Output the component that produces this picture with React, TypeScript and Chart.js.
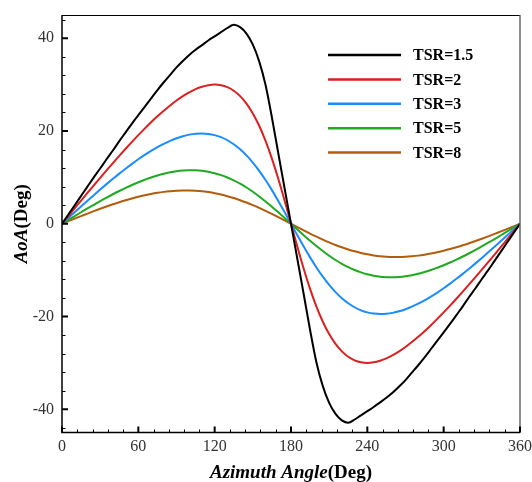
import React, { useEffect, useRef } from "react";
import { Chart, registerables } from "chart.js";

Chart.register(...registerables);

// Azimuth angle (deg)
const angles = [
  0, 5, 10, 15, 20, 25, 30, 35, 40, 45, 50, 55, 60, 65, 70, 75, 80, 85, 90,
  95, 100, 105, 110, 115, 120, 125, 130, 135, 140, 145, 150, 155, 160, 165, 170, 175, 180,
  185, 190, 195, 200, 205, 210, 215, 220, 225, 230, 235, 240, 245, 250, 255, 260, 265, 270,
  275, 280, 285, 290, 295, 300, 305, 310, 315, 320, 325, 330, 335, 340, 345, 350, 355, 360,
];

// AoA (deg) per tip speed ratio
const tsr15 = [
  0, 2.0, 4.0, 6.0, 8.0, 10.0, 11.9, 13.9, 15.8, 17.8, 19.7, 21.6, 23.4, 25.2, 27.0, 28.8, 30.5, 32.1, 33.7,
  35.1, 36.4, 37.5, 38.5, 39.5, 40.4, 41.3, 42.2, 42.9, 42.4, 41.0, 38.6, 35.0, 29.9, 22.9, 15.2, 7.6, 0,
  -7.6, -15.2, -22.9, -29.9, -35.0, -38.6, -41.0, -42.4, -42.9, -42.2, -41.3, -40.4, -39.5, -38.5, -37.5, -36.4, -35.1, -33.7,
  -32.1, -30.5, -28.8, -27.0, -25.2, -23.4, -21.6, -19.7, -17.8, -15.8, -13.9, -11.9, -10.0, -8.0, -6.0, -4.0, -2.0, 0,
];
const tsr2 = [
  0, 1.67, 3.33, 4.99, 6.64, 8.27, 9.90, 11.50, 13.08, 14.64, 16.16, 17.66, 19.11, 20.51, 21.86, 23.15, 24.37, 25.51, 26.57,
  27.51, 28.33, 29.02, 29.54, 29.88, 30.00, 29.87, 29.44, 28.68, 27.51, 25.91, 23.79, 21.13, 17.88, 14.05, 9.70, 4.96, 0,
  -4.96, -9.70, -14.05, -17.88, -21.13, -23.79, -25.91, -27.51, -28.68, -29.44, -29.87, -30.00, -29.88, -29.54, -29.02, -28.33, -27.51, -26.57,
  -25.51, -24.37, -23.15, -21.86, -20.51, -19.11, -17.66, -16.16, -14.64, -13.08, -11.50, -9.90, -8.27, -6.64, -4.99, -3.33, -1.67, 0,
];
const tsr3 = [
  0, 1.25, 2.49, 3.73, 4.96, 6.17, 7.37, 8.54, 9.68, 10.80, 11.87, 12.91, 13.90, 14.83, 15.70, 16.51, 17.24, 17.88, 18.43,
  18.88, 19.21, 19.41, 19.47, 19.37, 19.11, 18.66, 18.00, 17.14, 16.05, 14.73, 13.19, 11.41, 9.42, 7.25, 4.92, 2.49, 0,
  -2.49, -4.92, -7.25, -9.42, -11.41, -13.19, -14.73, -16.05, -17.14, -18.00, -18.66, -19.11, -19.37, -19.47, -19.41, -19.21, -18.88, -18.43,
  -17.88, -17.24, -16.51, -15.70, -14.83, -13.90, -12.91, -11.87, -10.80, -9.68, -8.54, -7.37, -6.17, -4.96, -3.73, -2.49, -1.25, 0,
];
const tsr5 = [
  0, 0.83, 1.66, 2.48, 3.30, 4.09, 4.87, 5.63, 6.36, 7.06, 7.73, 8.36, 8.95, 9.48, 9.98, 10.41, 10.78, 11.08, 11.31,
  11.46, 11.53, 11.51, 11.41, 11.20, 10.89, 10.49, 9.97, 9.35, 8.63, 7.81, 6.90, 5.89, 4.81, 3.67, 2.47, 1.25, 0,
  -1.25, -2.47, -3.67, -4.81, -5.89, -6.90, -7.81, -8.63, -9.35, -9.97, -10.49, -10.89, -11.20, -11.41, -11.51, -11.53, -11.46, -11.31,
  -11.08, -10.78, -10.41, -9.98, -9.48, -8.95, -8.36, -7.73, -7.06, -6.36, -5.63, -4.87, -4.09, -3.30, -2.48, -1.66, -0.83, 0,
];
const tsr8 = [
  0, 0.56, 1.11, 1.65, 2.19, 2.72, 3.23, 3.72, 4.19, 4.64, 5.06, 5.46, 5.82, 6.14, 6.43, 6.67, 6.87, 7.02, 7.13,
  7.18, 7.17, 7.11, 7.00, 6.82, 6.59, 6.29, 5.94, 5.54, 5.08, 4.57, 4.01, 3.41, 2.77, 2.11, 1.42, 0.71, 0,
  -0.71, -1.42, -2.11, -2.77, -3.41, -4.01, -4.57, -5.08, -5.54, -5.94, -6.29, -6.59, -6.82, -7.00, -7.11, -7.17, -7.18, -7.13,
  -7.02, -6.87, -6.67, -6.43, -6.14, -5.82, -5.46, -5.06, -4.64, -4.19, -3.72, -3.23, -2.72, -2.19, -1.65, -1.11, -0.56, 0,
];

const seriesLabels = ["TSR=1.5", "TSR=2", "TSR=3", "TSR=5", "TSR=8"];
const seriesValues = [tsr15, tsr2, tsr3, tsr5, tsr8];
const seriesColors = ["#000000", "#dc1f1f", "#1a8cff", "#1faa1f", "#b35c0c"];

const xTicks = [0, 60, 120, 180, 240, 300, 360];
const yTicks = [-40, -20, 0, 20, 40];
const xMinorStep = 12;
const yMinorStep = 4;

const SERIF = '"Liberation Serif", "Times New Roman", serif';

const decorPlugin = {
  id: "decor",
  afterDatasetsDraw(chart: any) {
    const { ctx, chartArea: ca, scales } = chart;
    const xs = scales.x;
    const ys = scales.y;
    ctx.save();
    ctx.lineCap = "butt";
    // top border
    ctx.strokeStyle = "#000";
    ctx.lineWidth = 1;
    ctx.beginPath();
    ctx.moveTo(ca.left, ca.top + 0.5);
    ctx.lineTo(ca.right, ca.top + 0.5);
    ctx.stroke();
    // right border
    ctx.strokeStyle = "#666";
    ctx.lineWidth = 1.5;
    ctx.beginPath();
    ctx.moveTo(ca.right, ca.top);
    ctx.lineTo(ca.right, ca.bottom);
    ctx.stroke();
    // left & bottom axes
    ctx.strokeStyle = "#000";
    ctx.lineWidth = 1.5;
    ctx.beginPath();
    ctx.moveTo(ca.left, ca.top);
    ctx.lineTo(ca.left, ca.bottom);
    ctx.lineTo(ca.right, ca.bottom);
    ctx.stroke();

    // major ticks (inward)
    ctx.lineWidth = 2;
    ctx.beginPath();
    for (const v of xTicks) {
      const px = xs.getPixelForValue(v);
      ctx.moveTo(px, ca.bottom);
      ctx.lineTo(px, ca.bottom - 6);
    }
    for (const v of yTicks) {
      const py = ys.getPixelForValue(v);
      ctx.moveTo(ca.left, py);
      ctx.lineTo(ca.left + 6, py);
    }
    ctx.stroke();
    // minor ticks
    ctx.lineWidth = 1;
    ctx.beginPath();
    for (let v = xs.min; v <= xs.max; v += xMinorStep) {
      if (xTicks.includes(v)) continue;
      const px = Math.round(xs.getPixelForValue(v)) + 0.5;
      ctx.moveTo(px, ca.bottom);
      ctx.lineTo(px, ca.bottom - 3);
    }
    for (let v = -44; v <= 44; v += yMinorStep) {
      if (yTicks.includes(v)) continue;
      const py = Math.round(ys.getPixelForValue(v)) + 0.5;
      ctx.moveTo(ca.left, py);
      ctx.lineTo(ca.left + 3.5, py);
    }
    ctx.stroke();
    ctx.restore();
  },
  afterDraw(chart: any) {
    const { ctx, chartArea: ca } = chart;
    ctx.save();
    // legend
    const lx0 = 328;
    const lx1 = 401;
    const ly0 = 55;
    const ldy = 24.4;
    ctx.font = `bold 16px ${SERIF}`;
    ctx.textBaseline = "middle";
    ctx.textAlign = "left";
    chart.data.datasets.forEach((ds: any, i: number) => {
      const y = ly0 + i * ldy;
      ctx.strokeStyle = ds.borderColor;
      ctx.lineWidth = 2.5;
      ctx.beginPath();
      ctx.moveTo(lx0, y);
      ctx.lineTo(lx1, y);
      ctx.stroke();
      ctx.fillStyle = "#000";
      ctx.fillText(ds.label, 413, y + 1);
    });

    // axis titles with mixed styles
    const drawMixed = (parts: [string, string][], cx: number, baseY: number) => {
      let total = 0;
      const widths: number[] = [];
      for (const [txt, font] of parts) {
        ctx.font = font;
        const w = ctx.measureText(txt).width;
        widths.push(w);
        total += w;
      }
      let x = cx - total / 2;
      ctx.textAlign = "left";
      ctx.textBaseline = "alphabetic";
      ctx.fillStyle = "#000";
      parts.forEach(([txt, font], i) => {
        ctx.font = font;
        ctx.fillText(txt, x, baseY);
        x += widths[i];
      });
    };
    const bi = `italic bold 19px ${SERIF}`;
    const b = `bold 19px ${SERIF}`;
    drawMixed(
      [
        ["Azimuth Angle", bi],
        ["(Deg)", b],
      ],
      (ca.left + ca.right) / 2,
      478
    );
    ctx.save();
    ctx.translate(27, (ca.top + ca.bottom) / 2);
    ctx.rotate(-Math.PI / 2);
    drawMixed(
      [
        ["AoA", bi],
        ["(Deg)", b],
      ],
      0,
      0
    );
    ctx.restore();
    ctx.restore();
  },
};

export default function App() {
  const ref = useRef<HTMLCanvasElement | null>(null);
  useEffect(() => {
    if (!ref.current) return;
    const chart = new Chart(ref.current, {
      type: "line",
      data: {
        datasets: seriesValues.map((vals, i) => ({
          label: seriesLabels[i],
          data: angles.map((a, j) => ({ x: a, y: vals[j] })),
          borderColor: seriesColors[i],
          backgroundColor: seriesColors[i],
          borderWidth: 2,
          pointRadius: 0,
          cubicInterpolationMode: "monotone" as const,
          fill: false,
        })),
      },
      options: {
        animation: false,
        responsive: false,
        maintainAspectRatio: false,
        devicePixelRatio: 1,
        layout: { padding: { left: 8, top: 15, right: 12, bottom: 0 } },
        plugins: {
          legend: { display: false },
          tooltip: { enabled: false },
        },
        scales: {
          x: {
            type: "linear",
            min: 0,
            max: 360,
            afterBuildTicks: (scale: any) => {
              scale.ticks = xTicks.map((v) => ({ value: v }));
            },
            afterFit: (scale: any) => {
              scale.height = 49.5;
              scale.paddingLeft = 0;
              scale.paddingRight = 0;
              scale.paddingTop = 0;
              scale.paddingBottom = 0;
            },
            grid: { display: false, drawTicks: false },
            border: { display: false },
            ticks: {
              font: { family: SERIF, size: 16 },
              color: "#333",
              padding: 5,
              maxRotation: 0,
              autoSkip: false,
            },
          },
          y: {
            type: "linear",
            min: -45,
            max: 45,
            afterBuildTicks: (scale: any) => {
              scale.ticks = yTicks.map((v) => ({ value: v }));
            },
            afterFit: (scale: any) => {
              scale.width = 54;
              scale.paddingLeft = 0;
              scale.paddingRight = 0;
              scale.paddingTop = 0;
              scale.paddingBottom = 0;
            },
            grid: { display: false, drawTicks: false },
            border: { display: false },
            ticks: {
              font: { family: SERIF, size: 16 },
              color: "#333",
              padding: 8,
              autoSkip: false,
            },
          },
        },
      },
      plugins: [decorPlugin],
    });
    return () => chart.destroy();
  }, []);
  return (
    <div style={{ position: "absolute", left: 0, top: 0, width: 532, height: 482, background: "#fff" }}>
      <canvas ref={ref} width={532} height={482} style={{ display: "block", width: 532, height: 482 }} />
    </div>
  );
}
